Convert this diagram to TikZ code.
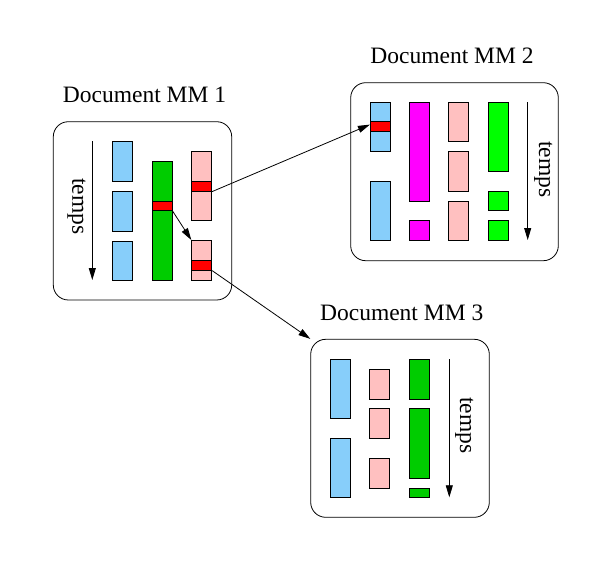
\documentclass[tikz,border=0pt]{standalone}
\usepackage{fontspec}
\setmainfont{Liberation Serif}
\usepackage{tikz}
\usetikzlibrary{arrows.meta}

\definecolor{bleu}{RGB}{135,206,250}
\definecolor{rose}{RGB}{255,192,192}
\definecolor{vert}{RGB}{0,204,0}
\definecolor{vertclair}{RGB}{0,255,0}
\definecolor{mauve}{RGB}{255,0,255}
\definecolor{rouge}{RGB}{255,0,0}

\tikzset{
  cadre/.style={draw, rounded corners=15pt, inner sep=0pt},
  seg/.style={draw, inner sep=0pt, minimum width=20pt},
  fleche/.style={-{Triangle[length=12pt,width=7pt]}},
  titre/.style={anchor=base, font=\fontsize{23.5}{28}\selectfont},
  temps/.style={rotate=-90, font=\fontsize{23.5}{28}\selectfont}
}

\begin{document}
\begin{tikzpicture}[x=1pt, y=-1pt, line width=0.8pt]
\useasboundingbox (0,0) rectangle (612,567);
% document 1
\node[titre] (t1) at (144.5,102.7) {Document MM 1};
\node[cadre, minimum width=178.4pt, minimum height=178.3pt] (doc1) at (142.5,210.85) {};
\draw[fleche] (92.3,141) -- (92.3,280);
\node[temps] (tp1) at (76.5,206.5) {temps};
\node[seg, fill=bleu, minimum height=40pt] (d1b1) at (122.5,161) {};
\node[seg, fill=bleu, minimum height=40pt] (d1b2) at (122.5,211) {};
\node[seg, fill=bleu, minimum height=39pt] (d1b3) at (122.5,260.5) {};
\node[seg, fill=vert, minimum height=119pt] (d1g1) at (162,220.5) {};
\node[seg, fill=rouge, minimum height=9.3pt] (d1r1) at (162,205.7) {};
\node[seg, fill=rose, minimum height=69pt] (d1p1) at (201.7,185.5) {};
\node[seg, fill=rouge, minimum height=10pt] (d1r2) at (201.7,186.2) {};
\node[seg, fill=rose, minimum height=39.7pt] (d1p2) at (201.7,260.2) {};
\node[seg, fill=rouge, minimum height=10pt] (d1r3) at (201.7,265.2) {};
% document 2
\node[titre] (t2) at (452,63.3) {Document MM 2};
\node[cadre, minimum width=207.6pt, minimum height=178pt] (doc2) at (454.5,171.7) {};
\draw[fleche] (527.7,102.3) -- (527.7,240);
\node[temps] (tp2) at (543.3,169.2) {temps};
\node[seg, fill=bleu, minimum height=48.7pt] (d2b1) at (380.3,126.7) {};
\node[seg, fill=rouge, minimum height=9.3pt] (d2r1) at (380.3,126.3) {};
\node[seg, fill=bleu, minimum height=58.3pt] (d2b2) at (380.3,210.8) {};
\node[seg, fill=mauve, minimum height=98.7pt] (d2m1) at (419.3,151.7) {};
\node[seg, fill=mauve, minimum height=19.7pt] (d2m2) at (419.3,230.2) {};
\node[seg, fill=rose, minimum height=38.7pt] (d2p1) at (458.3,121.7) {};
\node[seg, fill=rose, minimum height=39.3pt] (d2p2) at (458.3,171.3) {};
\node[seg, fill=rose, minimum height=38.3pt] (d2p3) at (458.3,220.8) {};
\node[seg, fill=vertclair, minimum height=68.7pt] (d2g1) at (498.3,136.7) {};
\node[seg, fill=vertclair, minimum height=18.3pt] (d2g2) at (498.3,200.8) {};
\node[seg, fill=vertclair, minimum height=19.7pt] (d2g3) at (498.3,230.2) {};
% document 3
\node[titre] (t3) at (401.7,320.7) {Document MM 3};
\node[cadre, minimum width=178.6pt, minimum height=178pt] (doc3) at (400,428.3) {};
\draw[fleche] (449.3,359.3) -- (449.3,497.3);
\node[temps] (tp3) at (464.2,425.5) {temps};
\node[seg, fill=bleu, minimum height=59pt] (d3b1) at (340.7,388.8) {};
\node[seg, fill=bleu, minimum height=59pt] (d3b2) at (340.7,467.8) {};
\node[seg, fill=rose, minimum height=30pt] (d3p1) at (379.3,384.3) {};
\node[seg, fill=rose, minimum height=30pt] (d3p2) at (379.3,423.3) {};
\node[seg, fill=rose, minimum height=30pt] (d3p3) at (379.3,473.3) {};
\node[seg, fill=vert, minimum height=40pt] (d3g1) at (419.3,379.3) {};
\node[seg, fill=vert, minimum height=70pt] (d3g2) at (419.3,443.3) {};
\node[seg, fill=vert, minimum height=9pt] (d3g3) at (419.3,492.8) {};
% liens entre documents
\draw[fleche] (d1r1.south east) -- (d1p2.north west);
\draw[fleche] (d1r2.south east) -- ([yshift=1.7pt]d2r1.west);
\draw[fleche] (d1r3.south east) -- (doc3.north west);
\end{tikzpicture}
\end{document}
